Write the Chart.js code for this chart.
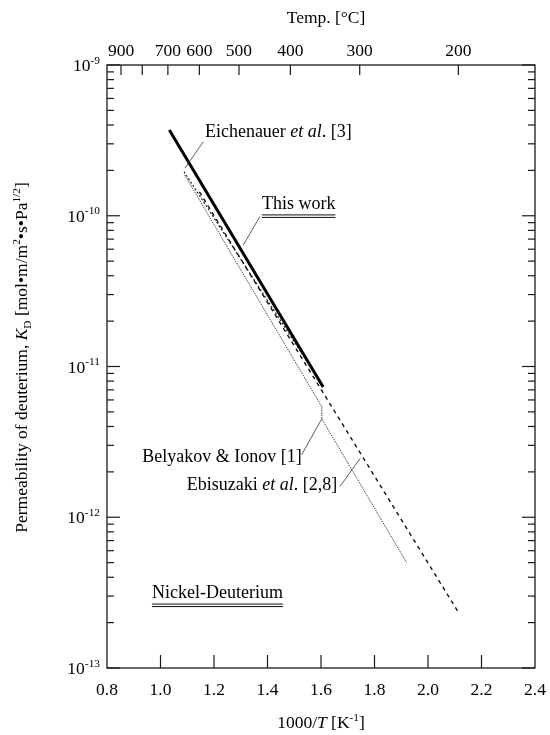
<!DOCTYPE html>
<html>
<head>
<meta charset="utf-8">
<script src="https://cdn.jsdelivr.net/npm/chart.js@4.4.0/dist/chart.umd.min.js"></script>
<style>
  html, body { margin: 0; padding: 0; background: #fff; }
</style>
</head>
<body>
<canvas id="kdChart" width="550" height="735"></canvas>
<script>
const SERIF = "'Liberation Serif', 'DejaVu Serif', serif";

// 1000/T [1/K] against K_D [mol/m/s/Pa^0.5]
const thisWorkX = [1.033, 1.608];
const thisWorkK = [3.7e-10, 7.3e-12];
const eichenauerX = [1.088, 1.56];
const eichenauerK = [1.96e-10, 1.0e-11];
const belyakovX = [1.09, 1.603, 1.603, 1.92];
const belyakovK = [1.87e-10, 5.4e-12, 4.5e-12, 5.0e-13];
const ebisuzakiX = [1.1455, 2.115];
const ebisuzakiK = [1.44e-10, 2.32e-13];

// axes
const xTicks = [0.8, 1.0, 1.2, 1.4, 1.6, 1.8, 2.0, 2.2, 2.4];
const tempTicks = [900, 800, 700, 600, 500, 400, 300, 200];
const tempLabels = ["900", "", "700", "600", "500", "400", "300", "200"];
const yDecades = [-13, -12, -11, -10, -9];
const yMinor = [2, 3, 4, 5, 6, 7, 8, 9];

// labels on the plot: [text, style] runs, anchored in data units
const notes = [
  { runs: [["Eichenauer "], ["et al", "i"], [". [3]"]], x: 1.166, k: 3.33e-10, align: "left",
    leader: [[1.160, 3.1e-10], [1.0916, 2.07e-10]] },
  { runs: [["This work"]], x: 1.379, k: 1.11e-10, align: "left", underline: true,
    leader: [[1.372, 9.9e-11], [1.3095, 6.4e-11]] },
  { runs: [["Belyakov & Ionov [1]"]], x: 1.528, k: 2.33e-12, align: "right",
    leader: [[1.528, 2.6e-12], [1.603, 4.5e-12]] },
  { runs: [["Ebisuzaki "], ["et al", "i"], [". [2,8]"]], x: 1.098, k: 1.52e-12, align: "left",
    leader: [[1.671, 1.6e-12], [1.7458, 2.45e-12]] },
  { runs: [["Nickel-Deuterium"]], x: 0.968, k: 2.91e-13, align: "left", underline: true }
];

function fontFor(style, size) {
  if (style === "sup" || style === "sub") return (size * 0.65) + "px " + SERIF;
  if (style === "i") return "italic " + size + "px " + SERIF;
  return size + "px " + SERIF;
}

function drawRuns(ctx, runs, x, y, size, align) {
  let total = 0;
  const widths = runs.map(r => {
    ctx.font = fontFor(r[1], size);
    const w = ctx.measureText(r[0]).width;
    total += w;
    return w;
  });
  let cx = x;
  if (align === "right") cx = x - total;
  if (align === "center") cx = x - total / 2;
  const start = cx;
  ctx.textAlign = "left";
  ctx.textBaseline = "alphabetic";
  runs.forEach((r, i) => {
    ctx.font = fontFor(r[1], size);
    let dy = 0;
    if (r[1] === "sup") dy = -size * 0.42;
    if (r[1] === "sub") dy = size * 0.25;
    ctx.fillText(r[0], cx, y + dy);
    cx += widths[i];
  });
  return { left: start, width: total };
}

const frame = {
  id: "frame",
  afterDatasetsDraw(chart) {
    const ctx = chart.ctx;
    const a = chart.chartArea;
    const xs = chart.scales.x;
    const ys = chart.scales.y;
    ctx.save();
    ctx.fillStyle = "#000";
    ctx.strokeStyle = "#1a1a1a";

    // box
    ctx.lineWidth = 1.3;
    ctx.strokeRect(a.left, a.top, a.right - a.left, a.bottom - a.top);

    // bottom ticks + labels
    ctx.lineWidth = 1.2;
    xTicks.forEach(v => {
      const px = xs.getPixelForValue(v);
      if (v > 0.81 && v < 2.39) {
        ctx.beginPath();
        ctx.moveTo(px, a.bottom);
        ctx.lineTo(px, a.bottom - 13);
        ctx.stroke();
      }
      ctx.font = "17.5px " + SERIF;
      ctx.textAlign = "center";
      ctx.textBaseline = "alphabetic";
      ctx.fillText(v.toFixed(1), px, a.bottom + 27);
    });

    // top temperature ticks
    tempTicks.forEach((t, i) => {
      const px = xs.getPixelForValue(1000 / (t + 273.15));
      ctx.beginPath();
      ctx.moveTo(px, a.top);
      ctx.lineTo(px, a.top + 10);
      ctx.stroke();
      if (tempLabels[i]) {
        ctx.font = "17.5px " + SERIF;
        ctx.textAlign = "center";
        ctx.fillText(tempLabels[i], px, a.top - 9);
      }
    });

    // left / right log ticks
    yDecades.forEach(e => {
      const py = ys.getPixelForValue(Math.pow(10, e));
      [[a.left, 1], [a.right, -1]].forEach(([ex, dir]) => {
        ctx.beginPath();
        ctx.moveTo(ex, py);
        ctx.lineTo(ex + dir * 13, py);
        ctx.stroke();
      });
      drawRuns(ctx, [["10"], [String(e), "sup"]], a.left - 7, py + 6, 17.5, "right");
      if (e === -9) return;
      yMinor.forEach(m => {
        const pm = ys.getPixelForValue(m * Math.pow(10, e));
        [[a.left, 1], [a.right, -1]].forEach(([ex, dir]) => {
          ctx.beginPath();
          ctx.moveTo(ex, pm);
          ctx.lineTo(ex + dir * 7, pm);
          ctx.stroke();
        });
      });
    });

    // axis titles
    const midX = (a.left + a.right) / 2;
    drawRuns(ctx, [["1000/"], ["T", "i"], [" [K"], ["-1", "sup"], ["]"]], midX, a.bottom + 60, 17.5, "center");
    drawRuns(ctx, [["Temp. [°C]"]], midX + 5, 23, 17.5, "center");
    ctx.save();
    ctx.translate(27, (a.top + a.bottom) / 2 - 9);
    ctx.rotate(-Math.PI / 2);
    drawRuns(ctx, [["Permeability of deuterium, "], ["K", "i"], ["D", "sub"], [" [mol•m/m"], ["2", "sup"],
      ["•s•Pa"], ["1/2", "sup"], ["]"]], 0, 0, 17.5, "center");
    ctx.restore();

    // notes and leader lines
    ctx.lineWidth = 0.8;
    ctx.strokeStyle = "#333";
    notes.forEach(n => {
      const px = xs.getPixelForValue(n.x);
      const py = ys.getPixelForValue(n.k);
      ctx.fillStyle = "#000";
      const box = drawRuns(ctx, n.runs, px, py, 18, n.align);
      if (n.underline) {
        ctx.save();
        ctx.lineWidth = 1;
        ctx.strokeStyle = "#111";
        [6, 8.5].forEach(off => {
          ctx.beginPath();
          ctx.moveTo(box.left, py + off);
          ctx.lineTo(box.left + box.width, py + off);
          ctx.stroke();
        });
        ctx.restore();
      }
      if (n.leader) {
        ctx.beginPath();
        ctx.moveTo(xs.getPixelForValue(n.leader[0][0]), ys.getPixelForValue(n.leader[0][1]));
        ctx.lineTo(xs.getPixelForValue(n.leader[1][0]), ys.getPixelForValue(n.leader[1][1]));
        ctx.stroke();
      }
    });
    ctx.restore();
  }
};

const series = (xs, ks, style) => Object.assign({
  data: xs.map((x, i) => ({ x: x, y: ks[i] })),
  showLine: true, pointRadius: 0, fill: false, tension: 0
}, style);

const kdChart = new Chart(document.getElementById("kdChart").getContext("2d"), {
  type: "scatter",
  data: {
    datasets: [
      series(ebisuzakiX, ebisuzakiK, { label: "Ebisuzaki et al. [2,8]", borderColor: "#111", borderWidth: 1.4, borderDash: [4, 4] }),
      series(belyakovX, belyakovK, { label: "Belyakov & Ionov [1]", borderColor: "#444", borderWidth: 1, borderDash: [1.5, 1] }),
      series(eichenauerX, eichenauerK, { label: "Eichenauer et al. [3]", borderColor: "#111", borderWidth: 1.1, borderDash: [2, 2] }),
      series(thisWorkX, thisWorkK, { label: "This work", borderColor: "#000", borderWidth: 3 })
    ]
  },
  options: {
    responsive: false,
    animation: false,
    devicePixelRatio: 1,
    layout: { padding: { top: 65, right: 15, left: 0, bottom: 0 } },
    plugins: { legend: { display: false }, tooltip: { enabled: false } },
    scales: {
      x: {
        type: "linear", min: 0.8, max: 2.4,
        grid: { display: false }, border: { display: false },
        ticks: { display: false },
        afterFit: s => { s.height = 67; }
      },
      y: {
        type: "logarithmic", min: 1e-13, max: 1e-9,
        grid: { display: false }, border: { display: false },
        ticks: { display: false },
        afterFit: s => { s.width = 107; }
      }
    }
  },
  plugins: [frame]
});
</script>
</body>
</html>
